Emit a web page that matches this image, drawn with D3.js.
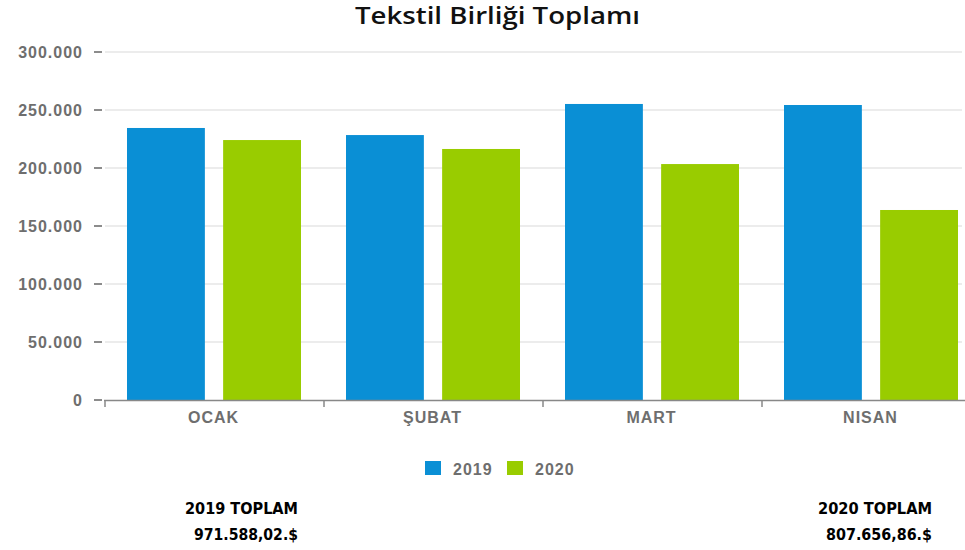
<!DOCTYPE html>
<html>
<head>
<meta charset="utf-8">
<script src="https://cdn.jsdelivr.net/npm/d3@7"></script>
<style>
  body { margin: 0; background: #fff; }
  svg { display: block; }
</style>
</head>
<body>
<svg id="chart" width="965" height="550"></svg>
<script>
let months = ["OCAK", "ŞUBAT", "MART", "NISAN"];
let years = ["2019", "2020"];
let values2019 = [234500, 228400, 255200, 254300];
let values2020 = [224100, 216400, 203400, 163800];
let yTicks = [0, 50000, 100000, 150000, 200000, 250000, 300000];
let totals = ["971.588,02.$", "807.656,86.$"];

let colors = ["#0a8fd5", "#99cc00"];

let svg = d3.select("#chart"),
    plotLeft = 105, plotRight = 981, plotTop = 52, plotBottom = 400;

let x = d3.scaleBand().domain(months).range([plotLeft, plotRight]);
let xInner = d3.scaleBand().domain(years).range([22, x.bandwidth() - 23]).paddingInner(0.19);
let y = d3.scaleLinear().domain([0, 300000]).range([plotBottom, plotTop]);

let fmt = function(v) { return v === 0 ? "0" : d3.format(",")(v).replace(/,/g, "."); };
let labelFont = "Liberation Sans, Arial, sans-serif";

// title
svg.append("text")
    .attr("x", 355).attr("y", 24)
    .attr("textLength", 285)
    .attr("lengthAdjust", "spacingAndGlyphs")
    .style("font-family", "Open Sans, sans-serif")
    .style("font-weight", 600)
    .style("font-size", "23px")
    .style("fill", "#111")
    .text("Tekstil Birliği Toplamı");

// grid
svg.append("g").selectAll("line")
    .data(yTicks.filter(d => d > 0))
    .enter().append("line")
    .attr("x1", plotLeft).attr("x2", 962)
    .attr("y1", d => y(d)).attr("y2", d => y(d))
    .attr("stroke", "#e6e6e6").attr("stroke-width", 1.5);

// y axis labels + dashes
let yg = svg.append("g");
yg.selectAll("text")
    .data(yTicks)
    .enter().append("text")
    .attr("x", 83).attr("y", d => y(d) + 6)
    .attr("text-anchor", "end")
    .style("font-family", labelFont)
    .style("font-weight", "bold")
    .style("font-size", "16px")
    .style("letter-spacing", "1px")
    .style("fill", "#6e6e6e")
    .text(fmt);
yg.selectAll("line")
    .data(yTicks)
    .enter().append("line")
    .attr("x1", 94).attr("x2", 102)
    .attr("y1", d => y(d)).attr("y2", d => y(d))
    .attr("stroke", "#666").attr("stroke-width", 1.5);

// bars
let data = months.map((m, i) => ({month: m, vals: [values2019[i], values2020[i]]}));
let groups = svg.append("g").selectAll("g")
    .data(data)
    .enter().append("g")
    .attr("transform", d => "translate(" + x(d.month) + ",0)");
groups.selectAll("rect")
    .data(d => d.vals.map((v, j) => ({year: years[j], value: v, color: colors[j]})))
    .enter().append("rect")
    .attr("x", d => xInner(d.year))
    .attr("width", xInner.bandwidth())
    .attr("y", d => y(d.value))
    .attr("height", d => plotBottom - y(d.value))
    .attr("fill", d => d.color);

// x axis
svg.append("line")
    .attr("x1", plotLeft - 1).attr("x2", 965)
    .attr("y1", plotBottom + 0.5).attr("y2", plotBottom + 0.5)
    .attr("stroke", "#888").attr("stroke-width", 1.5);
svg.append("g").selectAll("line")
    .data(months)
    .enter().append("line")
    .attr("x1", d => x(d)).attr("x2", d => x(d))
    .attr("y1", plotBottom).attr("y2", plotBottom + 7)
    .attr("stroke", "#888").attr("stroke-width", 1.5);
svg.append("g").selectAll("text")
    .data(months)
    .enter().append("text")
    .attr("x", d => x(d) + x.bandwidth() / 2 - 1)
    .attr("y", 423)
    .attr("text-anchor", "middle")
    .style("font-family", labelFont)
    .style("font-weight", "bold")
    .style("font-size", "16px")
    .style("letter-spacing", "1px")
    .style("fill", "#6e6e6e")
    .text(d => d);

// legend
let legend = svg.append("g");
let legendX = [425, 507];
years.forEach(function(yr, i) {
    legend.append("rect")
        .attr("x", legendX[i]).attr("y", 461)
        .attr("width", 16).attr("height", 14)
        .attr("fill", colors[i]);
    legend.append("text")
        .attr("x", legendX[i] + 28).attr("y", 475)
        .style("font-family", labelFont)
        .style("font-weight", "bold")
        .style("font-size", "16px")
        .style("letter-spacing", "1px")
        .style("fill", "#6e6e6e")
        .text(yr);
});

// totals
let totalX = [298, 932];
let totalW = [[113, 104], [114, 106]];
years.forEach(function(yr, i) {
    let g = svg.append("g")
        .style("font-family", "DejaVu Sans Condensed, DejaVu Sans, sans-serif")
        .style("font-weight", "bold")
        .style("font-size", "15px")
        .style("fill", "#000");
    g.append("text")
        .attr("x", totalX[i] - totalW[i][0]).attr("y", 514)
        .attr("textLength", totalW[i][0])
        .attr("lengthAdjust", "spacingAndGlyphs")
        .text(yr + " TOPLAM");
    g.append("text")
        .attr("x", totalX[i] - totalW[i][1]).attr("y", 540)
        .attr("textLength", totalW[i][1])
        .attr("lengthAdjust", "spacingAndGlyphs")
        .text(totals[i]);
});
</script>
</body>
</html>
